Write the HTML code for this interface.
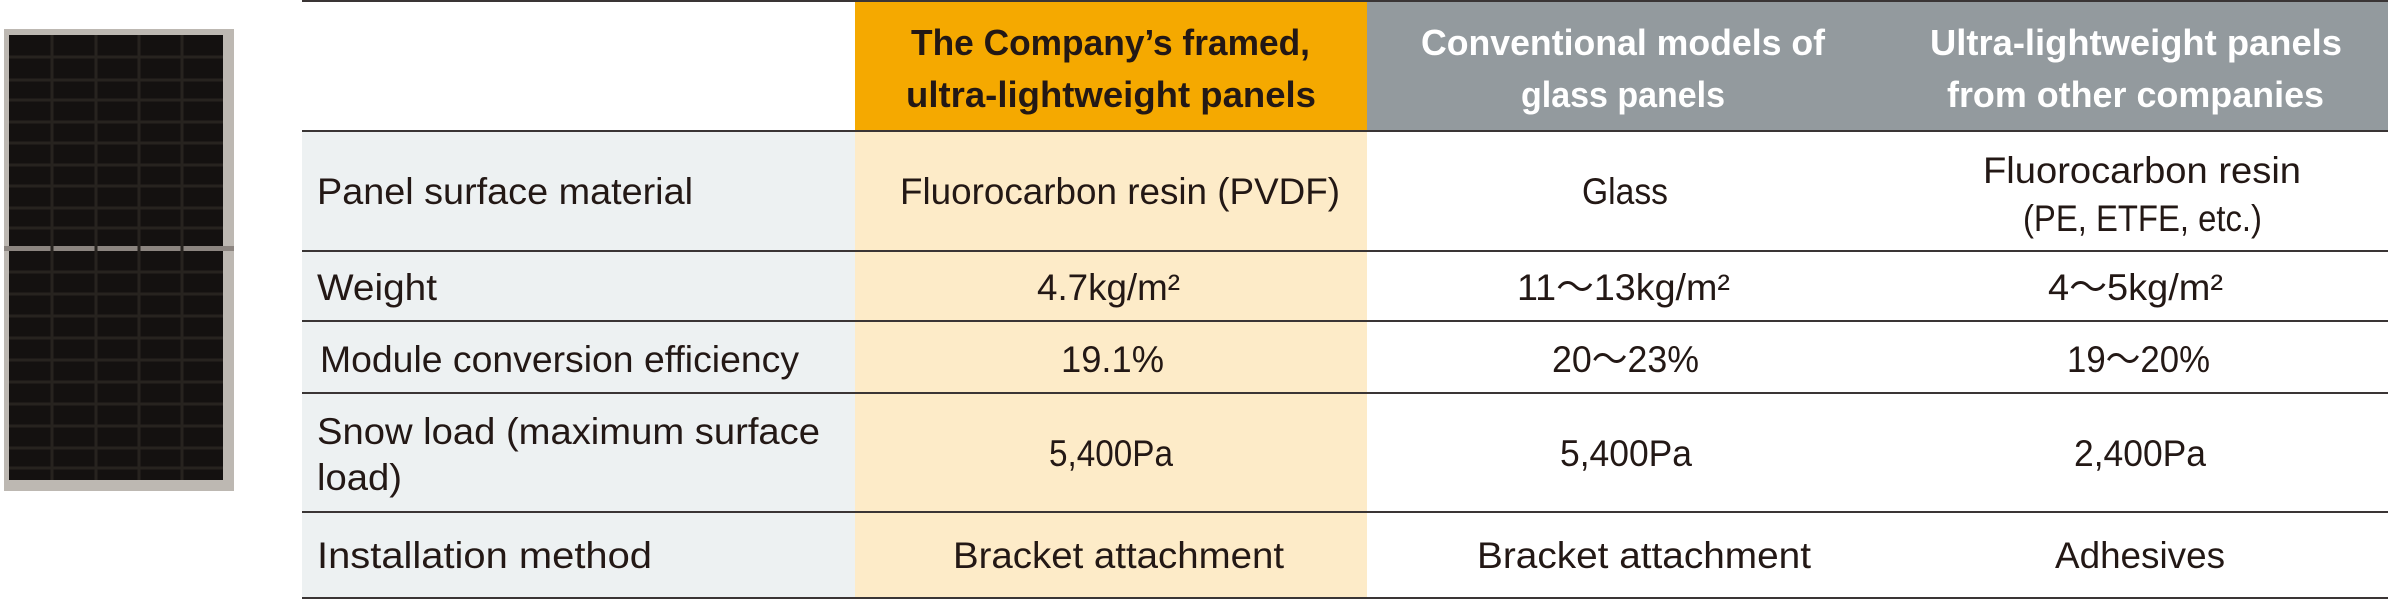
<!DOCTYPE html>
<html><head><meta charset="utf-8"><style>
html,body{margin:0;padding:0;background:#fff;width:2388px;height:600px;overflow:hidden}
svg{display:block}
text{font-family:"Liberation Sans",sans-serif;fill:#231815}
.h{font-weight:bold;font-size:36px}
.w{fill:#fff}
.b{font-size:37px}
</style></head><body>
<svg width="2388" height="600" viewBox="0 0 2388 600" xmlns="http://www.w3.org/2000/svg">
<!-- panel image -->
<rect x="4" y="29" width="230" height="462" fill="#bdb8b2"/>
<rect x="9" y="35" width="214" height="445" fill="#141110"/>
<rect x="4" y="246" width="230" height="5" fill="#8c8580"/>
<g stroke="#27231f" stroke-width="3">
<line x1="52" y1="35" x2="52" y2="480"/><line x1="96" y1="35" x2="96" y2="480"/><line x1="139" y1="35" x2="139" y2="480"/><line x1="182" y1="35" x2="182" y2="480"/>
<line x1="9" y1="57" x2="223" y2="57"/><line x1="9" y1="80" x2="223" y2="80"/><line x1="9" y1="100" x2="223" y2="100"/><line x1="9" y1="122" x2="223" y2="122"/><line x1="9" y1="143" x2="223" y2="143"/><line x1="9" y1="165" x2="223" y2="165"/><line x1="9" y1="186" x2="223" y2="186"/><line x1="9" y1="208" x2="223" y2="208"/><line x1="9" y1="228" x2="223" y2="228"/>
<line x1="9" y1="272" x2="223" y2="272"/><line x1="9" y1="294" x2="223" y2="294"/><line x1="9" y1="316" x2="223" y2="316"/><line x1="9" y1="338" x2="223" y2="338"/><line x1="9" y1="360" x2="223" y2="360"/><line x1="9" y1="382" x2="223" y2="382"/><line x1="9" y1="404" x2="223" y2="404"/><line x1="9" y1="426" x2="223" y2="426"/><line x1="9" y1="448" x2="223" y2="448"/><line x1="9" y1="468" x2="223" y2="468"/>
</g>
<!-- backgrounds -->
<rect x="302" y="131" width="553" height="467" fill="#edf1f2"/>
<rect x="855" y="0" width="512" height="131" fill="#f5a900"/>
<rect x="855" y="131" width="512" height="467" fill="#fdebc8"/>
<rect x="1367" y="0" width="1021" height="131" fill="#939a9e"/>
<!-- lines -->
<g fill="#3a3535">
<rect x="302" y="0" width="2086" height="2"/>
<rect x="302" y="130" width="2086" height="2"/>
<rect x="302" y="250" width="2086" height="2"/>
<rect x="302" y="320" width="2086" height="2"/>
<rect x="302" y="392" width="2086" height="2"/>
<rect x="302" y="511" width="2086" height="2"/>
<rect x="302" y="597" width="2086" height="2"/>
</g>
<!-- header -->
<text class="h" x="911" y="55" textLength="399" lengthAdjust="spacingAndGlyphs">The Company’s framed,</text>
<text class="h" x="906" y="107" textLength="410" lengthAdjust="spacingAndGlyphs">ultra-lightweight panels</text>
<text class="h w" x="1421" y="55" textLength="404" lengthAdjust="spacingAndGlyphs">Conventional models of</text>
<text class="h w" x="1521" y="107" textLength="204" lengthAdjust="spacingAndGlyphs">glass panels</text>
<text class="h w" x="1930" y="55" textLength="412" lengthAdjust="spacingAndGlyphs">Ultra-lightweight panels</text>
<text class="h w" x="1947" y="107" textLength="377" lengthAdjust="spacingAndGlyphs">from other companies</text>
<!-- labels -->
<text class="b" x="317" y="204" textLength="376" lengthAdjust="spacingAndGlyphs">Panel surface material</text>
<text class="b" x="317" y="300" textLength="120" lengthAdjust="spacingAndGlyphs">Weight</text>
<text class="b" x="320" y="372" textLength="479" lengthAdjust="spacingAndGlyphs">Module conversion efficiency</text>
<text class="b" x="317" y="444" textLength="503" lengthAdjust="spacingAndGlyphs">Snow load (maximum surface</text>
<text class="b" x="317" y="490" textLength="85" lengthAdjust="spacingAndGlyphs">load)</text>
<text class="b" x="317" y="568" textLength="335" lengthAdjust="spacingAndGlyphs">Installation method</text>
<!-- col 1 -->
<text class="b" x="900" y="204" textLength="440" lengthAdjust="spacingAndGlyphs">Fluorocarbon resin (PVDF)</text>
<text class="b" x="1037" y="300" textLength="143" lengthAdjust="spacingAndGlyphs">4.7kg/m²</text>
<text class="b" x="1061" y="372" textLength="103" lengthAdjust="spacingAndGlyphs">19.1%</text>
<text class="b" x="1049" y="466" textLength="124" lengthAdjust="spacingAndGlyphs">5,400Pa</text>
<text class="b" x="953" y="568" textLength="331" lengthAdjust="spacingAndGlyphs">Bracket attachment</text>
<!-- col 2 -->
<text class="b" x="1582" y="204" textLength="86" lengthAdjust="spacingAndGlyphs">Glass</text>
<text class="b" x="1517" y="300" textLength="213" lengthAdjust="spacingAndGlyphs">11～13kg/m²</text>
<text class="b" x="1552" y="372" textLength="147" lengthAdjust="spacingAndGlyphs">20～23%</text>
<text class="b" x="1560" y="466" textLength="132" lengthAdjust="spacingAndGlyphs">5,400Pa</text>
<text class="b" x="1477" y="568" textLength="334" lengthAdjust="spacingAndGlyphs">Bracket attachment</text>
<!-- col 3 -->
<text class="b" x="1983" y="183" textLength="318" lengthAdjust="spacingAndGlyphs">Fluorocarbon resin</text>
<text class="b" x="2023" y="231" textLength="239" lengthAdjust="spacingAndGlyphs">(PE, ETFE, etc.)</text>
<text class="b" x="2048" y="300" textLength="175" lengthAdjust="spacingAndGlyphs">4～5kg/m²</text>
<text class="b" x="2067" y="372" textLength="143" lengthAdjust="spacingAndGlyphs">19～20%</text>
<text class="b" x="2074" y="466" textLength="132" lengthAdjust="spacingAndGlyphs">2,400Pa</text>
<text class="b" x="2055" y="568" textLength="170" lengthAdjust="spacingAndGlyphs">Adhesives</text>
</svg>
</body></html>
